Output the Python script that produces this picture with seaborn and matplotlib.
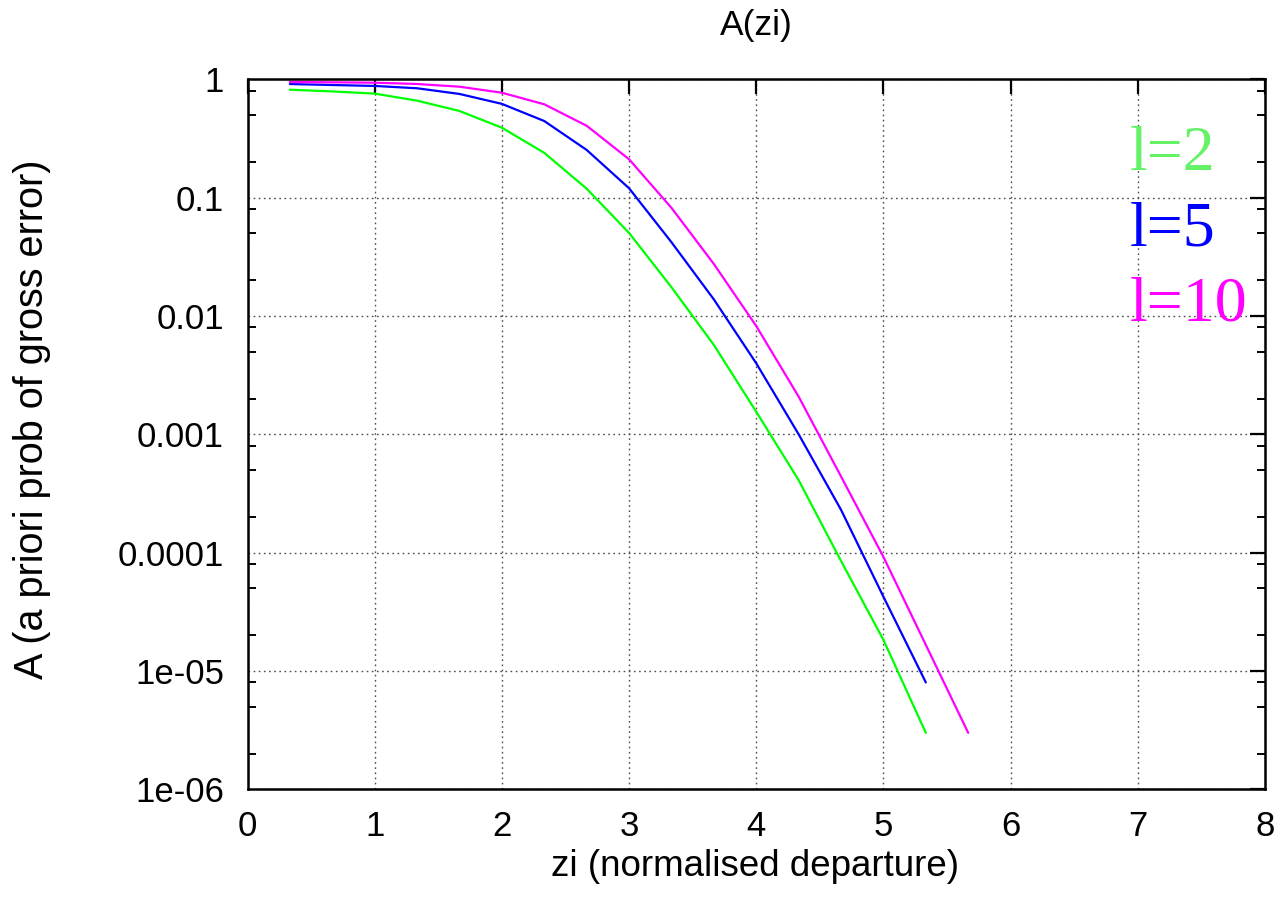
import numpy as np
import pandas as pd
import matplotlib
matplotlib.use("Agg")
import matplotlib.pyplot as plt
import seaborn as sns
from matplotlib.ticker import LogLocator, NullFormatter

# ---- data ----
zi_steps = [1, 2, 3, 4, 5, 6, 7, 8, 9, 10, 11, 12, 13, 14, 15, 16, 17]  # zi = step / 3
a_l2 = [0.817, 0.79, 0.757, 0.66, 0.54, 0.39, 0.239, 0.119, 0.0503, 0.0175,
        0.00569, 0.00155, 4.1e-4, 8.5e-5, 1.83e-5, 3.0e-6]
a_l5 = [0.912, 0.895, 0.879, 0.84, 0.752, 0.62, 0.444, 0.253, 0.12, 0.042,
        0.0138, 0.00398, 0.001, 2.3e-4, 4.24e-5, 8.0e-6]
a_l10 = [0.949, 0.943, 0.936, 0.913, 0.866, 0.77, 0.615, 0.405, 0.211, 0.082,
         0.0275, 0.00822, 0.00208, 4.4e-4, 9.2e-5, 1.66e-5, 3.0e-6]
series_names = ["l=2", "l=5", "l=10"]
x_ticks = [0, 1, 2, 3, 4, 5, 6, 7, 8]
y_ticks = [1, 0.1, 0.01, 0.001, 0.0001, 1e-05, 1e-06]
y_tick_labels = ["1", "0.1", "0.01", "0.001", "0.0001", "1e-05", "1e-06"]

rows = []
for name, vals in zip(series_names, [a_l2, a_l5, a_l10]):
    for s, v in zip(zi_steps, vals):
        rows.append({"zi": s / 3.0, "A": v, "series": name})
df = pd.DataFrame(rows)

line_colors = {"l=2": "#00ff00", "l=5": "#0000ff", "l=10": "#ff00ff"}
label_colors = {"l=2": "#66f266", "l=5": "#0000ff", "l=10": "#ff00ff"}

sns.set_style("white")
plt.rcParams["font.family"] = ["Liberation Sans", "DejaVu Sans"]
plt.rcParams["text.color"] = "black"
plt.rcParams["axes.labelcolor"] = "black"
plt.rcParams["xtick.color"] = "black"
plt.rcParams["ytick.color"] = "black"

fig = plt.figure(figsize=(12.8, 9.02), dpi=100)
ax = fig.add_axes([0.19336, 0.12495, 0.79492, 0.78713])

sns.lineplot(data=df, x="zi", y="A", hue="series", palette=line_colors,
             linewidth=1.6, legend=False, ax=ax, estimator=None, sort=False)

ax.set_yscale("log")
ax.set_xlim(0, 8)
ax.set_ylim(1e-6, 1)
ax.set_xticks(x_ticks)
ax.set_xticklabels([str(t) for t in x_ticks])
ax.set_yticks(y_ticks)
ax.set_yticklabels(y_tick_labels)
ax.yaxis.set_minor_locator(LogLocator(base=10, subs=(2.0, 5.0, 8.0)))
ax.yaxis.set_minor_formatter(NullFormatter())

ax.tick_params(which="major", direction="in", length=11, width=1.6,
               top=True, right=True, labelsize=25, colors="black")
ax.tick_params(axis="y", which="major", pad=17)
ax.tick_params(axis="x", which="major", pad=15)
ax.tick_params(which="minor", direction="in", length=6, width=1.4,
               top=False, right=True, left=True)
for sp in ax.spines.values():
    sp.set_visible(True)
    sp.set_color("black")
    sp.set_linewidth(1.8)

ax.grid(True, which="major", linestyle=(0, (1.2, 2.5)), color="0.3", linewidth=1.0)

ax.set_title("A(zi)", fontsize=25.5, pad=32)
ax.set_xlabel("zi (normalised departure)", fontsize=26.5)
ax.set_ylabel("A (a priori prob of gross error)", fontsize=28.5)
ax.xaxis.set_label_coords(0.4983, -0.0835)
ax.yaxis.set_label_coords(-0.193, 0.521)

for i, name in enumerate(series_names):
    ax.text(0.867, 0.872 - i * 0.1057, name, transform=ax.transAxes,
            fontsize=46, color=label_colors[name],
            family=["Liberation Serif", "DejaVu Serif"], ha="left", va="baseline")

fig.savefig("out.png", dpi=100)
